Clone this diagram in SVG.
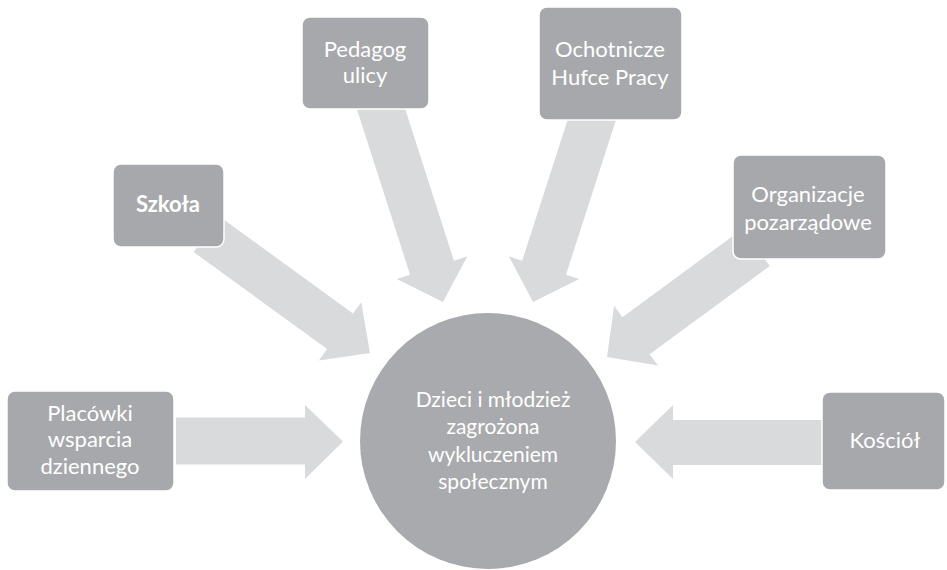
<svg xmlns="http://www.w3.org/2000/svg" width="947" height="570" viewBox="0 0 947 570">
<style>
.arrow{fill:#d9dadc;}
.box{fill:#a7a8ab;stroke:#ffffff;stroke-width:1.5;}
.hub{fill:#a9aaad;}
.t{font-family:Lato,"Open Sans","Liberation Sans",sans-serif;font-size:22px;fill:#ffffff;text-anchor:middle;}
.c{font-size:21px;}
.b{font-weight:bold;}
</style>
<rect width="947" height="570" fill="#ffffff"/>
<g id="connectors">
  <polygon class="arrow" points="176,417.5 305,417.5 305,405 343,441.5 305,479 305,464.5 176,464.5"/>
  <polygon class="arrow" points="823,420 673,420 673,405 635,442 673,479 673,465 823,465"/>
  <polygon class="arrow" transform="translate(370,353) rotate(36)" points="-202,-22 -37,-22 -37,-36 0,0 -37,36 -37,22 -202,22"/>
  <polygon class="arrow" transform="translate(443,302) rotate(72.2)" points="-212,-23 -36,-23 -36,-37 0,0 -36,37 -36,23 -212,23"/>
  <polygon class="arrow" transform="translate(533,302) rotate(107.9)" points="-204,-23 -36,-23 -36,-37 0,0 -36,37 -36,23 -204,23"/>
  <polygon class="arrow" transform="translate(607,357) rotate(143.7)" points="-185,-23 -36,-23 -36,-37 0,0 -36,37 -36,23 -185,23"/>
</g>
<g id="hub">
  <circle class="hub" cx="488" cy="441" r="128"/>
  <text class="t c"><tspan x="493" y="407">Dzieci i młodzież</tspan><tspan x="493" y="434">zagrożona</tspan><tspan x="493" y="462">wykluczeniem</tspan><tspan x="493" y="489">społecznym</tspan></text>
</g>
<g id="placowki">
  <rect class="box" x="7" y="391" width="167" height="100" rx="8"/>
  <text class="t"><tspan x="90" y="421">Placówki</tspan><tspan x="90" y="447">wsparcia</tspan><tspan x="90" y="474">dziennego</tspan></text>
</g>
<g id="szkola">
  <rect class="box" x="113" y="164" width="111" height="83" rx="8"/>
  <text class="t b" x="168" y="212">Szkoła</text>
</g>
<g id="pedagog">
  <rect class="box" x="302" y="17" width="127" height="92" rx="8"/>
  <text class="t"><tspan x="365" y="57">Pedagog</tspan><tspan x="365" y="83">ulicy</tspan></text>
</g>
<g id="ohp">
  <rect class="box" x="539" y="7" width="143" height="113" rx="8"/>
  <text class="t"><tspan x="610" y="57">Ochotnicze</tspan><tspan x="610" y="85">Hufce Pracy</tspan></text>
</g>
<g id="organizacje">
  <rect class="box" x="733" y="155" width="153" height="104" rx="8"/>
  <text class="t"><tspan x="808" y="202">Organizacje</tspan><tspan x="808" y="230">pozarządowe</tspan></text>
</g>
<g id="kosciol">
  <rect class="box" x="822" y="392" width="123" height="98" rx="8"/>
  <text class="t" x="885" y="448">Kościół</text>
</g>
</svg>
